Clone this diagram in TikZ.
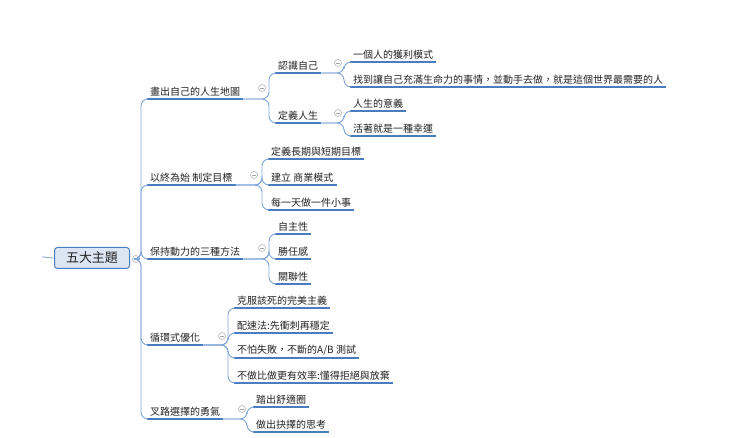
\documentclass[tikz,border=0pt]{standalone}
\usepackage{fontspec}
\setmainfont{Noto Sans CJK TC}
\definecolor{ulc}{HTML}{4A7CC0}
\definecolor{cnc}{HTML}{7FA6D8}
\definecolor{rootf}{HTML}{DCE6F3}
\definecolor{txc}{HTML}{222222}
\tikzset{
  topic/.style={anchor=south west,inner xsep=3pt,inner ysep=2.5pt,font=\fontsize{10}{12}\selectfont,text=txc},
  ul/.style={draw=ulc,line width=1.8pt},
  conn/.style={draw=cnc,line width=0.9pt,rounded corners=7pt},
  coll/.style={circle,draw=gray!70,line width=0.5pt,minimum size=7pt,inner sep=0pt,fill=white},
}
\newcommand{\tp}[4]{\node[topic] (#1) at (#2,#3) {#4}; \draw[ul] (#1.south west) -- (#1.south east);}
\newcommand{\cn}[2]{\draw[conn] (#1.south east) -| ([xshift=-6pt]#2.south west) -- (#2.south west);}
\newcommand{\cl}[3]{\node[coll] (#1) at (#2,#3) {}; \draw[gray!70,line width=0.5pt] ([xshift=-2pt]#1.center) -- ([xshift=2pt]#1.center);}
\begin{document}
\begin{tikzpicture}[x=1pt,y=-1pt]
\useasboundingbox (0,0) rectangle (740,438);
% root
\coordinate (stub) at (42,257);
\node[draw=ulc,fill=rootf,rounded corners=3pt,line width=1pt,minimum width=75pt,minimum height=21pt,font=\fontsize{13}{15}\selectfont,text=txc] (root) at (92,258) {五大主題};
\draw[cnc,line width=0.8pt] (stub) to[out=0,in=180] (root.west);
\cl{rc}{136}{259}
% level 1
\tp{a}{147}{99}{畫出自己的人生地圖}
\tp{b}{147}{185}{以終為始 制定目標}
\tp{c}{147}{259}{保持動力的三種方法}
\tp{d}{147}{345}{循環式優化}
\tp{e}{147}{419}{叉路選擇的勇氣}
\foreach \n in {a,b,c,d,e}{\draw[conn] (rc.east) -| ([xshift=-6pt]\n.south west) -- (\n.south west);}
% level 2
\tp{a1}{275}{73}{認識自己}
\tp{a2}{275}{123}{定義人生}
\cn{a}{a1}\cn{a}{a2}
\tp{a11}{350}{62}{一個人的獲利模式}
\tp{a12}{350}{87}{找到讓自己充滿生命力的事情，並動手去做，就是這個世界最需要的人}
\cn{a1}{a11}\cn{a1}{a12}
\tp{a21}{350}{111}{人生的意義}
\tp{a22}{350}{136}{活著就是一種幸運}
\cn{a2}{a21}\cn{a2}{a22}
\tp{b1}{268}{159}{定義長期與短期目標}
\tp{b2}{268}{185}{建立 商業模式}
\tp{b3}{268}{210}{每一天做一件小事}
\cn{b}{b1}\cn{b}{b2}\cn{b}{b3}
\tp{c1}{275}{234}{自主性}
\tp{c2}{275}{259}{勝任感}
\tp{c3}{275}{284}{關聯性}
\cn{c}{c1}\cn{c}{c2}\cn{c}{c3}
\tp{d1}{234}{308}{克服該死的完美主義}
\tp{d2}{234}{333}{配速法:先衝刺再穩定}
\tp{d3}{234}{358}{不怕失敗，不斷的A/B 測試}
\tp{d4}{234}{383}{不做比做更有效率:懂得拒絕與放棄}
\cn{d}{d1}\cn{d}{d2}\cn{d}{d3}\cn{d}{d4}
\tp{e1}{253}{407}{踏出舒適圈}
\tp{e2}{253}{432}{做出抉擇的思考}
\cn{e}{e1}\cn{e}{e2}
% collapse markers
\cl{ca}{262}{88}
\cl{cb}{254}{175}
\cl{cc}{262}{248}
\cl{cd}{222}{336}
\cl{ce}{242}{409}
\cl{ca1}{338}{63}
\cl{ca2}{338}{113}
\end{tikzpicture}
\end{document}
